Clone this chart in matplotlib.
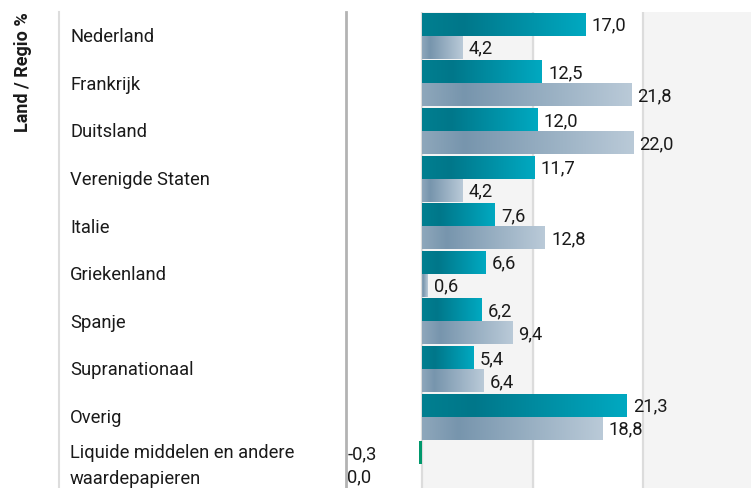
import numpy as np
import matplotlib
matplotlib.use("Agg")
import matplotlib.pyplot as plt
from matplotlib.colors import LinearSegmentedColormap
from matplotlib.lines import Line2D
from matplotlib.transforms import blended_transform_factory, ScaledTranslation

plt.rcParams['font.family'] = ['Roboto', 'DejaVu Sans']

categories = ["Nederland", "Frankrijk", "Duitsland", "Verenigde Staten", "Italie",
              "Griekenland", "Spanje", "Supranationaal", "Overig",
              "Liquide middelen en andere\nwaardepapieren"]
series_a = [17.0, 12.5, 12.0, 11.7, 7.6, 6.6, 6.2, 5.4, 21.3, -0.3]
series_b = [4.2, 21.8, 22.0, 4.2, 12.8, 0.6, 9.4, 6.4, 18.8, 0.0]

teal = LinearSegmentedColormap.from_list("teal", [(0, "#007f90"), (0.25, "#00778a"), (1, "#00a9c1")])
grey = LinearSegmentedColormap.from_list("grey", [(0, "#8ea7bb"), (0.2, "#7795ad"), (1, "#bacad8")])
grad = np.linspace(0, 1, 256).reshape(1, -1)

fs = 13.2

fig = plt.figure(figsize=(7.51, 4.88), dpi=100)
ax = fig.add_axes([346 / 751, 0, 405 / 751, 476 / 488])

xmin, xmax = -7.92, 34.27
ax.axvspan(0, 11.55, color="#f4f4f4", zorder=0)
ax.axvspan(23.07, xmax, color="#f4f4f4", zorder=0)
for gx in [0, 11.55, 23.07]:
    ax.axvline(gx, color="#dcdcdc", lw=1.6, zorder=1)

h = 0.483
down = ScaledTranslation(0, -1.5 / 100, fig.dpi_scale_trans)


def draw_bar(v, y0, y1, cmap):
    if v > 0:
        ax.imshow(grad, extent=(0, v, y1, y0), aspect="auto", cmap=cmap, zorder=2)
    elif v < 0:
        ax.barh((y0 + y1) / 2, v, height=y1 - y0, color="#00986c", zorder=2)


def label(v, yc):
    txt = f"{v:.1f}".replace(".", ",")
    if v > 0:
        ax.annotate(txt, (v, yc), xytext=(4.5, -1), textcoords="offset points",
                    va="center", ha="left", fontsize=fs, color="#1a1a1a")
    else:
        ax.text(0.003, yc, txt,
                transform=blended_transform_factory(ax.transAxes, ax.transData) + down,
                va="center", ha="left", fontsize=fs, color="#1a1a1a")


for i, (a, b) in enumerate(zip(series_a, series_b)):
    draw_bar(a, i - h, i, teal)
    draw_bar(b, i, i + h, grey)
    label(a, i - h / 2)
    label(b, i + h / 2)

lt = blended_transform_factory(fig.transFigure, ax.transData) + down
for i, c in enumerate(categories):
    ax.text(70 / 751, i, c, transform=lt, ha="left", va="center", fontsize=fs,
            color="#1a1a1a", linespacing=1.6, clip_on=False)

ax.set_xlim(xmin, xmax)
ax.set_ylim(len(categories) - 0.5, -0.5)
ax.set_xticks([])
ax.set_yticks([])
for s in ["top", "right", "bottom"]:
    ax.spines[s].set_visible(False)
ax.spines["left"].set_color("#b3b3b3")
ax.spines["left"].set_linewidth(2)

fig.add_artist(Line2D([59 / 751, 59 / 751], [0, 476 / 488], color="#dddddd", lw=1.5))
fig.text(23 / 751, 1 - 12 / 488, "Land / Regio %", rotation=90, ha="center", va="top",
         fontsize=13, fontweight="bold", color="#1a1a1a")

fig.savefig("out.png", dpi=100)
